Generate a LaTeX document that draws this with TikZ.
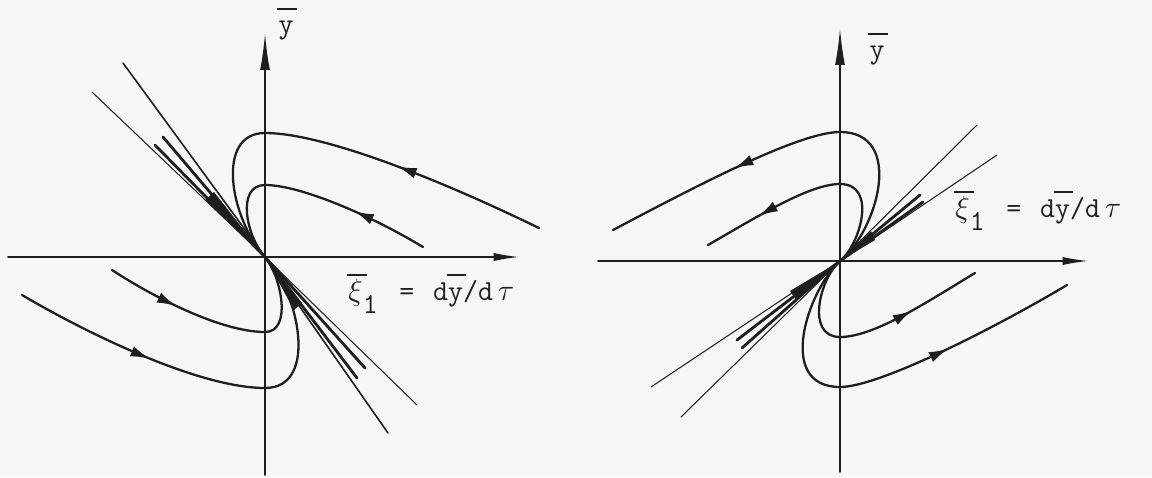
\documentclass[tikz,border=0pt]{standalone}
\usepackage{fontspec}
\usetikzlibrary{arrows.meta,decorations.markings}
\newcommand\barred[2]{\makebox[0pt][l]{\hspace{-0.05em}\rule[#2]{0.68em}{1.3pt}}#1}
\definecolor{ink}{RGB}{30,30,30}
\definecolor{paper}{RGB}{246,246,246}
\begin{document}
\begin{tikzpicture}[x=0.02cm,y=-0.02cm,line cap=round,line join=round,
  axis/.style={draw=ink,line width=1.1pt},
  traj/.style={draw=ink,line width=1.3pt},
  thinl/.style={draw=ink,line width=0.6pt},
  medl/.style={draw=ink,line width=0.9pt},
  bundle/.style={draw=ink,line width=1.6pt},
  flow/.style={postaction={decorate},decoration={markings,
     mark=at position #1 with {\arrow{Latex[length=11pt,width=6.2pt]}}}},
  lbl/.style={font={\ttfamily\fontsize{16.5}{20}\selectfont},text=ink,inner sep=0pt},
  vtip/.style={-{Latex[length=21pt,width=5.6pt]}},
  htip/.style={-{Latex[length=15pt,width=4.6pt]}}]
\fill[paper] (0,0) rectangle (1152,477);
\useasboundingbox (0,0) rectangle (1152,477);

% ---------------- left panel ----------------
\coordinate (O1) at (265,257);
\coordinate (X1a) at (8,257);   \coordinate (X1b) at (520,257);
\coordinate (Y1a) at (265,475); \coordinate (Y1b) at (265,33);
\draw[axis,htip] (X1a) -- (X1b);
\draw[axis,vtip] (Y1a) -- (Y1b);

\draw[thinl] (92,92) -- (O1) -- (417,405);
\draw[medl] (123,63) -- (O1) -- (388,433);
\draw[bundle] (163,137) -- (O1) -- (357,378);
\draw[bundle] (155,145) -- (O1) -- (365,368);
\fill[ink] (O1) -- (214,192) -- (205,200) -- cycle;
\fill[ink] (O1) -- (302,303) -- (294,310) -- cycle;

\draw[traj,flow=0.35] (539,228) .. controls (430,175) and (320,133) .. (265,133)
   .. controls (215,133) and (230,218) .. (O1);
\draw[traj,flow=0.30] (423,247) .. controls (370,215) and (300,185) .. (265,185)
   .. controls (236,185) and (246,236) .. (O1);
\draw[traj,flow=0.34] (22,295) .. controls (90,335) and (200,388) .. (265,388)
   .. controls (320,388) and (298,290) .. (O1);
\draw[traj,flow=0.29] (112,270) .. controls (150,295) and (220,332) .. (265,332)
   .. controls (292,332) and (282,278) .. (O1);

\node[lbl,anchor=base] (yl1) at (286,33) {\barred{y}{0.8em}};
\node[lbl,anchor=base west] (xl1) at (348,300)
  {\barred{$\xi$}{0.82em}\raisebox{-0.45em}{1}\hspace{0.75em}=\hspace{0.65em}d\barred{y}{0.82em}/d\,$\tau$};

% ---------------- right panel ----------------
\coordinate (O2) at (840,261);
\coordinate (X2a) at (598,261);  \coordinate (X2b) at (1089,261);
\coordinate (Y2a) at (840,472);  \coordinate (Y2b) at (840,28);
\draw[axis,htip] (X2a) -- (X2b);
\draw[axis,vtip] (Y2a) -- (Y2b);

\draw[thinl] (977,125) -- (O2) -- (681,417);
\draw[thinl] (997,155) -- (O2) -- (651,387);
\draw[bundle] (920,195) -- (O2) -- (742,348);
\draw[bundle] (923,202) -- (O2) -- (737,340);
\fill[ink] (O2) -- (871,231) -- (875,240) -- cycle;
\fill[ink] (O2) -- (790,291) -- (796,300) -- cycle;

\draw[traj,flow=0.67] (O2) .. controls (878,230) and (905,132) .. (840,132)
   .. controls (800,132) and (700,184) .. (613,230);
\draw[traj,flow=0.76] (O2) .. controls (860,245) and (878,184) .. (840,184)
   .. controls (810,184) and (760,215) .. (708,245);
\draw[traj,flow=0.70] (O2) .. controls (820,278) and (805,337) .. (840,337)
   .. controls (875,337) and (930,300) .. (975,273);
\draw[traj,flow=0.67] (O2) .. controls (808,290) and (775,387) .. (840,387)
   .. controls (880,387) and (1000,325) .. (1067,285);

\node[lbl,anchor=base] (yl2) at (877,58) {\barred{y}{0.8em}};
\node[lbl,anchor=base west] (xl2) at (955,217)
  {\barred{$\xi$}{0.82em}\raisebox{-0.45em}{1}\hspace{0.75em}=\hspace{0.65em}d\barred{y}{0.82em}/d\,$\tau$};
\end{tikzpicture}
\end{document}
